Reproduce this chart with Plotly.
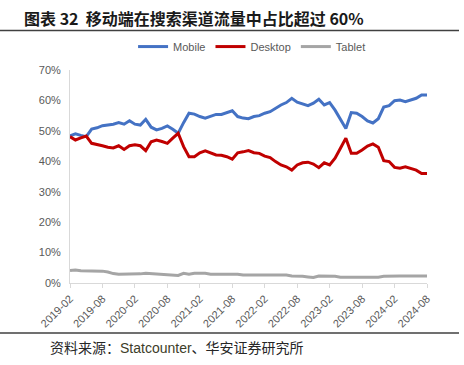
import plotly.graph_objects as go

months = [f"{y}-{m:02d}" for y in range(2019, 2025) for m in range(1, 13)]
months = [m for m in months if "2019-02" <= m <= "2024-08"]

mobile = [48.4, 49.0, 48.5, 48.1, 50.6, 51.0, 51.7, 51.9, 52.2, 52.7, 52.2, 53.3,
          52.2, 51.9, 53.8, 51.2, 50.3, 50.8, 51.6, 50.5, 49.2, 52.7, 55.8, 55.5,
          54.7, 54.2, 54.7, 55.4, 55.4, 56.0, 56.6, 54.7, 54.2, 54.0, 54.7, 55.0,
          55.8, 56.3, 57.4, 58.5, 59.3, 60.7, 59.4, 58.8, 58.3, 59.1, 60.4, 58.5,
          59.3, 56.8, 53.6, 50.8, 56.0, 55.8, 54.7, 53.3, 52.6, 54.0, 57.8, 58.3,
          59.9, 60.1, 59.6, 60.1, 60.7, 61.8, 61.8]
desktop = [48.1, 47.0, 47.7, 48.3, 45.9, 45.6, 45.1, 44.6, 44.4, 45.1, 43.9, 45.1,
           45.4, 45.1, 43.5, 46.4, 47.0, 46.5, 45.9, 47.6, 49.2, 44.8, 41.5, 41.5,
           42.8, 43.4, 42.8, 42.1, 42.0, 41.5, 40.7, 42.8, 43.1, 43.5, 42.8, 42.6,
           41.7, 41.2, 39.9, 38.8, 38.2, 37.1, 38.8, 39.5, 39.7, 39.1, 37.9, 39.5,
           38.8, 41.0, 44.3, 47.6, 42.6, 42.6, 43.7, 45.0, 45.7, 44.6, 40.2, 39.9,
           38.0, 37.7, 38.2, 37.7, 37.1, 36.0, 36.0]
tablet = [4.1, 4.3, 4.0, 4.0, 4.0, 4.0, 3.9, 3.6, 3.1, 2.9, 2.9, 2.9,
          2.9, 3.0, 3.2, 3.1, 2.9, 2.9, 2.9, 2.8, 2.5, 3.2, 2.9, 3.2,
          3.2, 3.2, 2.9, 2.9, 2.9, 2.9, 2.9, 2.9, 2.6, 2.6, 2.6, 2.6,
          2.6, 2.6, 2.6, 2.6, 2.6, 2.3, 2.3, 2.2, 2.0, 1.8, 2.3, 2.3,
          2.3, 2.2, 1.9, 1.9, 1.9, 1.9, 1.9, 1.9, 1.9, 1.9, 2.2, 2.3,
          2.3, 2.3, 2.3, 2.3, 2.3, 2.3, 2.3]

tick_labels = months[::6]
y_ticks = [0, 10, 20, 30, 40, 50, 60, 70]

series = [("Mobile", mobile, "#4472C4"), ("Desktop", desktop, "#C00000"), ("Tablet", tablet, "#A5A5A5")]

fig = go.Figure()
for name, vals, color in series:
    fig.add_trace(go.Scatter(x=months, y=vals, name=name, mode="lines",
                             line=dict(color=color, width=3)))

gray = "#595959"
fig.update_layout(
    width=464, height=365,
    margin=dict(l=70, r=37, t=70, b=82, autoexpand=False),
    paper_bgcolor="white", plot_bgcolor="white",
    font=dict(family="Liberation Sans, Arial, sans-serif", size=10, color=gray),
    showlegend=True,
    legend=dict(orientation="h", x=0.51, xanchor="center", y=1.11, yanchor="middle",
                font=dict(size=11, color=gray), itemwidth=30, bgcolor="rgba(0,0,0,0)"),
    xaxis=dict(type="category", range=[0, len(months) - 1], tickmode="array",
               tickvals=tick_labels, ticktext=tick_labels, tickangle=-45,
               showgrid=False, showline=True, linecolor="#D9D9D9", linewidth=1,
               ticks="outside", ticklen=4, tickcolor="#D9D9D9", automargin=False,
               tickfont=dict(size=11, color=gray)),
    yaxis=dict(range=[0, 70], tickvals=y_ticks, ticktext=[f"{v}%" for v in y_ticks],
               showgrid=False, showline=True, linecolor="#D9D9D9", linewidth=1,
               zeroline=False, ticks="", automargin=False, ticklabelstandoff=6,
               tickfont=dict(size=11, color=gray)),
)

fig.add_annotation(xref="paper", yref="paper", x=-0.135, y=1.0 + (70 - 18) / 213,
                   xanchor="left", yanchor="middle", showarrow=False,
                   text="<b>图表 32  移动端在搜索渠道流量中占比超过 60%</b>",
                   font=dict(family="Noto Sans CJK SC", size=16, color="#1a1a1a"))
fig.add_annotation(xref="paper", yref="paper", x=(48 - 70) / 357, y=-(347 - 283) / 213,
                   xanchor="left", yanchor="middle", showarrow=False,
                   text="资料来源：<span style='color:#3d3d29;font-family:Liberation Sans'>Statcounter</span>、华安证券研究所",
                   font=dict(family="Noto Sans CJK SC, Liberation Sans", size=14, color="#262626"))

fig.add_shape(type="line", xref="paper", yref="paper",
              x0=-70 / 357, x1=(459 - 70) / 357, y0=1 + (70 - 30.5) / 213, y1=1 + (70 - 30.5) / 213,
              line=dict(color="#404040", width=1.5))
fig.add_shape(type="line", xref="paper", yref="paper",
              x0=-70 / 357, x1=(459 - 70) / 357, y0=-(333 - 283) / 213, y1=-(333 - 283) / 213,
              line=dict(color="#404040", width=1.5))

fig.write_html("out.html", config={"displayModeBar": False},
               post_script="document.body.style.margin='0';document.body.style.padding='0';")
